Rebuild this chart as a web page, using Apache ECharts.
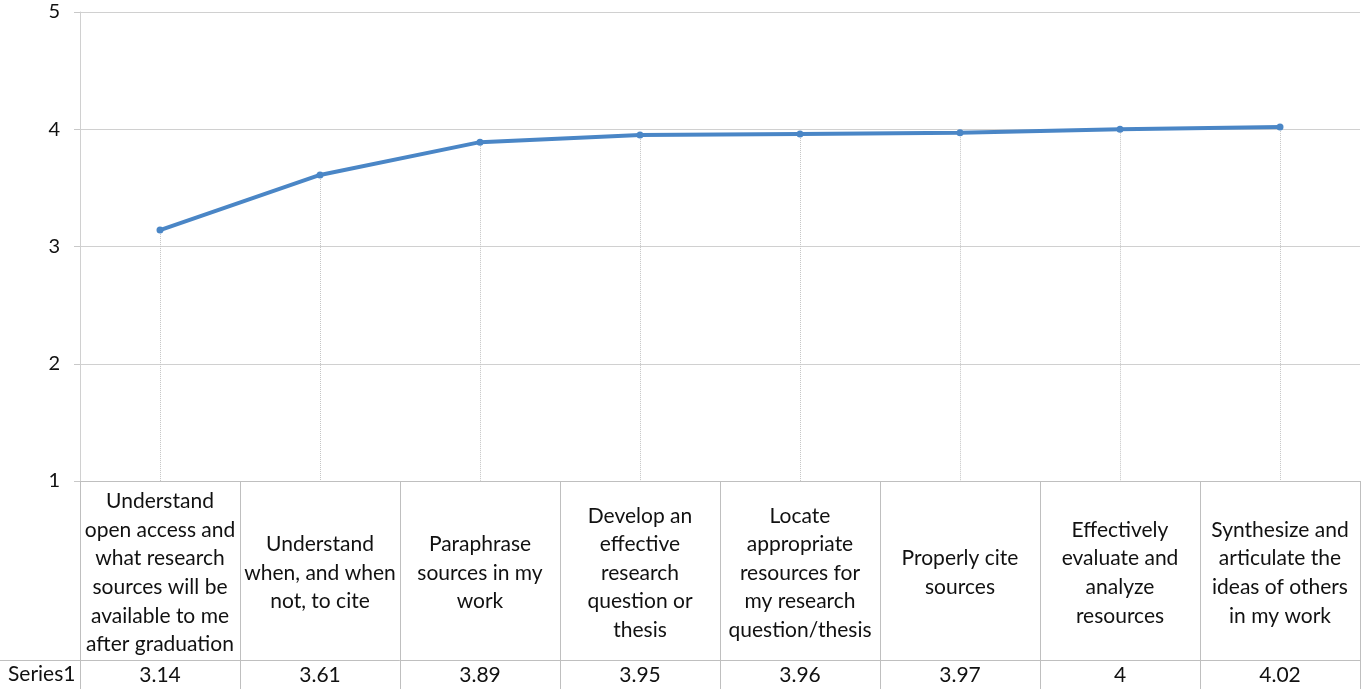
<!DOCTYPE html>
<html>
<head>
<meta charset="utf-8">
<script src="https://cdn.jsdelivr.net/npm/echarts@6/dist/echarts.min.js"></script>
<style>
html,body{margin:0;padding:0;background:#fff;}
#chart{width:1362px;height:689px;}
</style>
</head>
<body>
<div id="chart"></div>
<script>
var categories = [
  "Understand\nopen access and\nwhat research\nsources will be\navailable to me\nafter graduation",
  "Understand\nwhen, and when\nnot, to cite",
  "Paraphrase\nsources in my\nwork",
  "Develop an\neffective\nresearch\nquestion or\nthesis",
  "Locate\nappropriate\nresources for\nmy research\nquestion/thesis",
  "Properly cite\nsources",
  "Effectively\nevaluate and\nanalyze\nresources",
  "Synthesize and\narticulate the\nideas of others\nin my work"
];
var seriesName = "Series1";
var values = [3.14, 3.61, 3.89, 3.95, 3.96, 3.97, 4, 4.02];
var yTicks = { min: 1, max: 5, interval: 1 };

var FONT = "Lato";
var chart = echarts.init(document.getElementById('chart'));
var dropLines = values.map(function (v, i) {
  return [{ coord: [i, v] }, { coord: [i, yTicks.min] }];
});
chart.setOption({
  animation: false,
  grid: { left: 80, right: 2, top: 12, bottom: 208, containLabel: false },
  xAxis: [{
    type: 'category',
    data: categories,
    boundaryGap: true,
    axisLine: { show: true, lineStyle: { color: '#bfbfbf', width: 1 } },
    axisTick: { show: true, alignWithLabel: false, length: 208, lineStyle: { color: '#bfbfbf' } },
    axisLabel: {
      interval: 0, fontFamily: FONT, fontSize: 21, color: '#111', lineHeight: 28.6,
      verticalAlign: 'middle', align: 'center', margin: 92
    },
    splitLine: { show: false }
  }, {
    type: 'category',
    data: values.map(function (v) { return String(v); }),
    position: 'bottom',
    offset: 179,
    boundaryGap: true,
    axisLine: { show: true, lineStyle: { color: '#bfbfbf', width: 1 } },
    axisTick: { show: false },
    axisLabel: { interval: 0, fontFamily: FONT, fontSize: 21, color: '#111', margin: 5 }
  }],
  yAxis: {
    type: 'value',
    min: yTicks.min, max: yTicks.max, interval: yTicks.interval,
    axisLine: { show: true, lineStyle: { color: '#d0d0d0' } },
    axisTick: { show: true, length: 6, lineStyle: { color: '#c8c8c8' } },
    axisLabel: { fontFamily: FONT, fontSize: 20, color: '#111', margin: 20 },
    splitLine: { show: true, lineStyle: { color: '#d0d0d0', width: 1 } }
  },
  graphic: [
    { type: 'line', shape: { x1: 0, y1: 660.5, x2: 80, y2: 660.5 }, style: { stroke: '#bfbfbf', lineWidth: 1 } },
    { type: 'text', left: 8, top: 664, style: { text: seriesName, font: '21px ' + FONT, fill: '#111' } }
  ],
  series: [{
    name: seriesName,
    type: 'line',
    data: values,
    symbol: 'circle',
    symbolSize: 7,
    lineStyle: { color: '#4a86c6', width: 4 },
    itemStyle: { color: '#4a86c6' },
    z: 5,
    markLine: {
      silent: true,
      symbol: ['none', 'none'],
      label: { show: false },
      lineStyle: { color: '#c4c4c4', type: 'dotted', width: 1 },
      data: dropLines,
      z: 1
    }
  }]
});
</script>
</body>
</html>
